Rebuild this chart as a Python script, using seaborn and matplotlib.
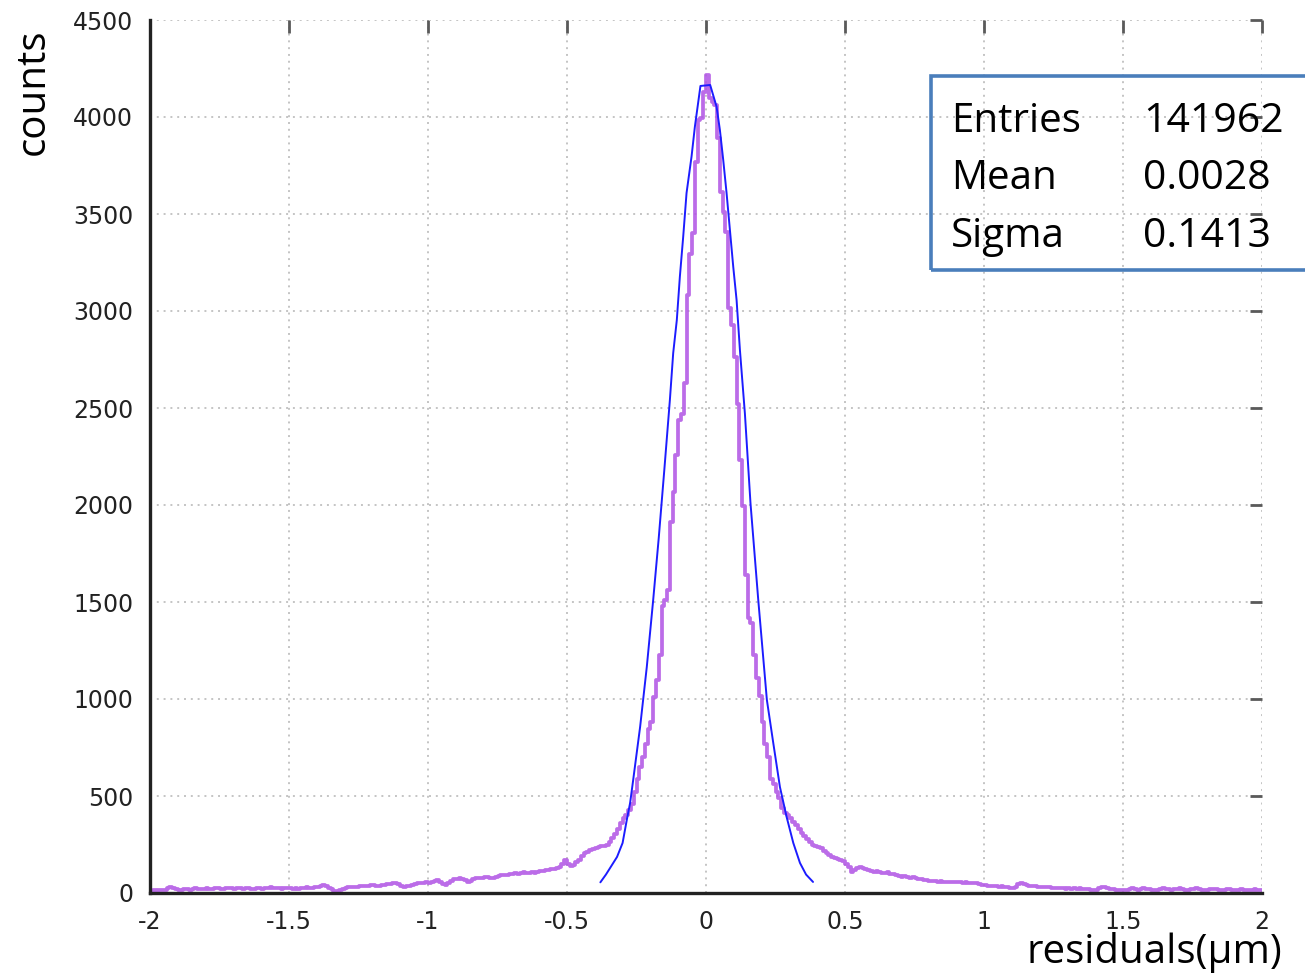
import numpy as np
import pandas as pd
import matplotlib
matplotlib.use("Agg")
import matplotlib.pyplot as plt
import seaborn as sns
from matplotlib.patches import Rectangle

# Residual histogram: 0.01 um bins from -2 to 2, one row per 0.1 um
hist_range = (-2.0, 2.0)
n_bins = 400

counts_left = [  # -2.0 .. -0.5
    10, 14, 12, 16, 15, 18, 24, 31, 26, 20,
    17, 15, 19, 22, 18, 20, 24, 21, 19, 23,
    25, 22, 20, 24, 27, 23, 21, 25, 28, 24,
    22, 26, 24, 21, 25, 27, 23, 20, 24, 26,
    23, 25, 28, 32, 27, 24, 26, 22, 25, 27,
    24, 22, 26, 23, 28, 25, 30, 27, 24, 29,
    33, 38, 41, 36, 28, 19, 12, 9, 15, 22,
    27, 30, 33, 31, 29, 34, 36, 38, 35, 40,
    41, 38, 36, 40, 43, 46, 44, 50, 52, 47,
    36, 33, 38, 35, 42, 48, 51, 53, 49, 55,
    52, 58, 63, 67, 56, 44, 41, 52, 62, 70,
    74, 78, 72, 65, 58, 62, 70, 75, 79, 77,
    80, 82, 78, 75, 83, 88, 92, 95, 91, 96,
    100, 104, 98, 103, 106, 101, 104, 108, 103, 110,
    112, 115, 118, 116, 122, 126, 129, 135, 152, 170,
]
counts_core = [  # -0.5 .. 0.5
    150, 138, 145, 160, 172, 190, 205, 212, 220, 228,
    232, 236, 240, 244, 248, 262, 285, 305, 330, 360,
    385, 400, 428, 460, 520, 590, 650, 700, 770, 845,
    880, 1011, 1100, 1225, 1480, 1510, 1560, 1914, 2066, 2258,
    2440, 2470, 2630, 3085, 3292, 3400, 3770, 3985, 3995, 4130,
    4216, 4100, 4075, 4062, 3890, 3615, 3512, 3409, 3014, 2928,
    2765, 2520, 2231, 1997, 1638, 1420, 1390, 1225, 1110, 1018,
    880, 770, 700, 590, 560, 520, 490, 440, 412, 400,
    385, 366, 350, 330, 309, 295, 280, 265, 250, 242,
    237, 230, 215, 206, 196, 186, 180, 176, 170, 165,
]
counts_right = [  # 0.5 .. 2.0
    150, 135, 110, 118, 129, 134, 128, 122, 118, 112,
    110, 112, 108, 104, 103, 106, 100, 97, 92, 88,
    84, 86, 80, 77, 82, 77, 72, 70, 67, 66,
    64, 62, 60, 58, 61, 57, 59, 56, 58, 57,
    58, 55, 53, 56, 52, 50, 52, 49, 45, 41,
    40, 38, 37, 35, 36, 33, 34, 32, 30, 28,
    24, 30, 44, 52, 46, 40, 36, 34, 35, 33,
    33, 31, 29, 30, 27, 25, 24, 26, 24, 23,
    24, 22, 25, 23, 24, 21, 22, 20, 18, 15,
    17, 24, 30, 33, 28, 22, 19, 17, 16, 15,
    15, 18, 22, 24, 20, 18, 21, 24, 22, 19,
    17, 15, 18, 21, 24, 22, 19, 17, 20, 23,
    24, 21, 18, 16, 19, 22, 24, 21, 17, 15,
    16, 19, 22, 20, 17, 15, 18, 21, 19, 16,
    14, 17, 20, 18, 15, 13, 17, 19, 16, 14,
]

# Gaussian fit curve, sampled points
fit_x = [-0.38, -0.36, -0.345, -0.32, -0.30, -0.285, -0.273, -0.262, -0.237,
         -0.213, -0.19, -0.17, -0.15, -0.13, -0.118, -0.105, -0.094, -0.082,
         -0.07, -0.052, -0.04, -0.02, 0.015, 0.038, 0.05, 0.062, 0.074, 0.086,
         0.098, 0.11, 0.122, 0.14, 0.16, 0.188, 0.219, 0.242, 0.266, 0.29,
         0.314, 0.338, 0.36, 0.385]
fit_y = [55, 95, 129, 186, 258, 376, 464, 582, 856,
         1165, 1510, 1830, 2180, 2540, 2783, 2953, 3177, 3383,
         3608, 3796, 3950, 4160, 4165, 4053, 3933, 3778, 3608, 3418,
         3228, 3057, 2799, 2470, 2010, 1510, 995, 773, 546, 392,
         258, 155, 95, 57]

stat_names = ["Entries", "Mean", "Sigma"]
stat_values = ["141962", "0.0028", "0.1413"]

x_ticks = [-2, -1.5, -1, -0.5, 0, 0.5, 1, 1.5, 2]
x_tick_labels = ["-2", "-1.5", "-1", "-0.5", "0", "0.5", "1", "1.5", "2"]
y_ticks = [0, 500, 1000, 1500, 2000, 2500, 3000, 3500, 4000, 4500]

sns.set_theme(style="white")
plt.rcParams["font.family"] = ["DejaVu Sans"]

W, H = 1305, 973
fig = plt.figure(figsize=(W / 100, H / 100), dpi=100)
ax = fig.add_axes([150 / W, 80 / H, 1112 / W, 873 / H])

edges = np.linspace(hist_range[0], hist_range[1], n_bins + 1)
hist_df = pd.DataFrame({
    "residual": 0.5 * (edges[:-1] + edges[1:]),
    "count": counts_left + counts_core + counts_right,
})
fit_df = pd.DataFrame({"residual": fit_x, "count": fit_y})

sns.histplot(data=hist_df, x="residual", weights="count", bins=n_bins,
             binrange=hist_range, element="step", fill=False,
             color="#b052e4", linewidth=2.7, alpha=0.85, ax=ax)
sns.lineplot(data=fit_df, x="residual", y="count", color="#1c1cff",
             linewidth=1.4, ax=ax)

ax.set_xlim(hist_range)
ax.set_ylim(0, 4500)
ax.set_xticks(x_ticks)
ax.set_xticklabels(x_tick_labels)
ax.set_yticks(y_ticks)
ax.set_xlabel("")
ax.set_ylabel("")

ax.grid(True, color="#c4c4c4", linestyle=(0, (1, 2.5)), linewidth=1.4)
ax.set_axisbelow(True)

for side in ("top", "right"):
    ax.spines[side].set_visible(False)
for side in ("left", "bottom"):
    ax.spines[side].set_visible(True)
    ax.spines[side].set_color("#222222")
    ax.spines[side].set_linewidth(2.4)

ax.tick_params(axis="both", which="major", direction="in", length=9, width=2,
               color="#5a5a5a", top=True, right=True, labelsize=17,
               labelcolor="#222222")
ax.tick_params(axis="x", pad=12)
ax.tick_params(axis="y", pad=12)

label_font = ["Open Sans", "DejaVu Sans"]
fig.text(33 / W, 1 - 92 / H, "counts", rotation=90, ha="center", va="center",
         fontsize=29, family=label_font, color="black")
fig.text(1282 / W, 1 - 963 / H, "residuals(μm)", ha="right", va="baseline",
         fontsize=29, family=label_font, color="black")

# statistics box (runs past the right edge of the canvas)
fig.add_artist(Rectangle((931 / W, 1 - 270 / H), 0.5, 194 / H,
                         transform=fig.transFigure, fill=False,
                         edgecolor="#4a7ebb", linewidth=2.6))
baselines = [132, 189, 247]
for name, value, base in zip(stat_names, stat_values, baselines):
    fig.text(951 / W, 1 - base / H, name, ha="left", va="baseline",
             fontsize=29, family=label_font, color="black")
    fig.text(1143 / W, 1 - base / H, value, ha="left", va="baseline",
             fontsize=29.5, family=label_font, color="black")

fig.savefig("out.png", dpi=100)
